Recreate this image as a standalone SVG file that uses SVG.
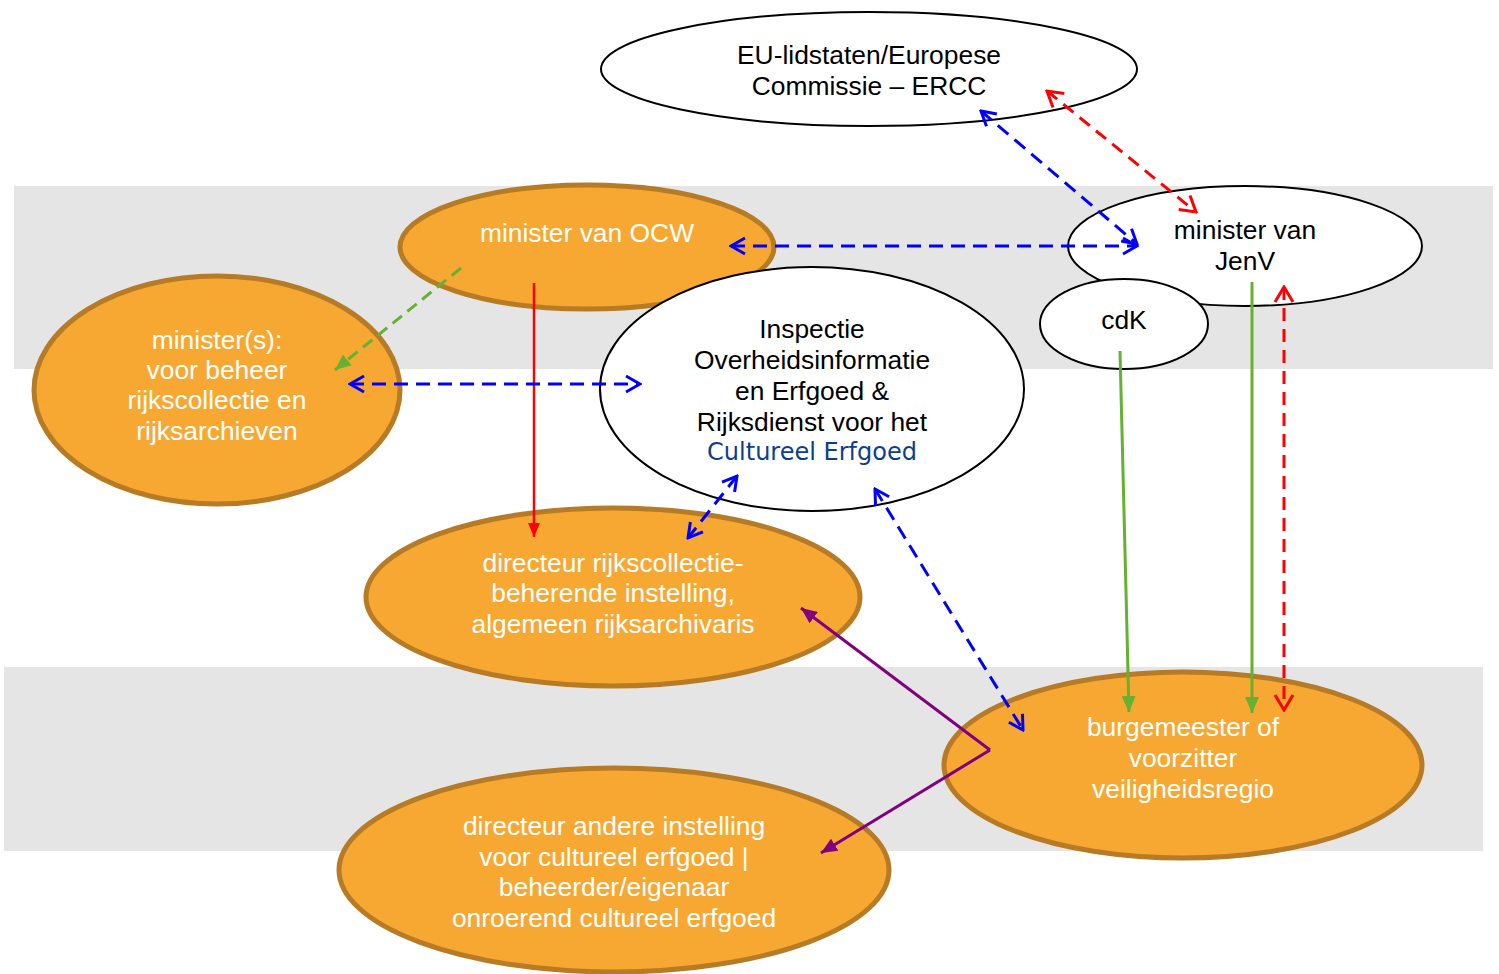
<svg xmlns="http://www.w3.org/2000/svg" width="1499" height="974" viewBox="0 0 1499 974">
<style>
.t{font-family:"Liberation Sans",Arial,sans-serif;font-size:26.4px;text-anchor:middle}
.w{fill:#fff}
.k{fill:#000}
.org{fill:#F6A833;stroke:#B77B26;stroke-width:5}
.wht{fill:#fff;stroke:#000;stroke-width:2}
.bd{fill:none;stroke:#0000FF;stroke-width:3;stroke-dasharray:14 8}
.rd{fill:none;stroke:#FF0000;stroke-width:3;stroke-dasharray:13 8}
.gd{fill:none;stroke:#66B032;stroke-width:3;stroke-dasharray:12 7}
.gs{fill:none;stroke:#66B032;stroke-width:3}
.rs{fill:none;stroke:#FF0000;stroke-width:2.5}
.ps{fill:none;stroke:#800080;stroke-width:3}
</style>
<defs>
<marker id="ob" markerUnits="userSpaceOnUse" viewBox="0 0 20 20" markerWidth="20" markerHeight="20" refX="18" refY="10" orient="auto-start-reverse"><path d="M4,2 L18,10 L4,18" fill="none" stroke="#0000FF" stroke-width="3"/></marker>
<marker id="or" markerUnits="userSpaceOnUse" viewBox="0 0 22 22" markerWidth="22" markerHeight="22" refX="20" refY="11" orient="auto-start-reverse"><path d="M5,2 L20,11 L5,20" fill="none" stroke="#FF0000" stroke-width="3"/></marker>
<marker id="fg" markerUnits="userSpaceOnUse" viewBox="0 0 16 14" markerWidth="16" markerHeight="14" refX="16" refY="7" orient="auto"><path d="M0,0 L16,7 L0,14 Z" fill="#66B032"/></marker>
<marker id="fr" markerUnits="userSpaceOnUse" viewBox="0 0 14 12" markerWidth="14" markerHeight="12" refX="14" refY="6" orient="auto"><path d="M0,0 L14,6 L0,12 Z" fill="#FF0000"/></marker>
<marker id="fp" markerUnits="userSpaceOnUse" viewBox="0 0 16 14" markerWidth="16" markerHeight="14" refX="16" refY="7" orient="auto"><path d="M0,0 L16,7 L0,14 Z" fill="#800080"/></marker>
</defs>
<rect width="1499" height="974" fill="#fff"/>
<g id="bands">
<rect x="14" y="186" width="1479" height="183" fill="#E5E5E5"/>
<rect x="4" y="667" width="1479" height="184" fill="#E5E5E5"/>
</g>
<g id="eu"><ellipse class="wht" cx="869" cy="69" rx="268" ry="57"/>
<text class="t k" x="869" y="64">EU-lidstaten/Europese</text>
<text class="t k" x="869" y="95">Commissie – ERCC</text></g>
<g id="ocw"><ellipse class="org" cx="587" cy="247" rx="187" ry="62"/>
<text class="t w" x="587" y="242">minister van OCW</text></g>
<g id="jenv"><ellipse class="wht" cx="1245" cy="246" rx="177" ry="60"/>
<text class="t k" x="1245" y="239">minister van</text>
<text class="t k" x="1245" y="270">JenV</text></g>
<g id="cdk"><ellipse class="wht" cx="1124" cy="324" rx="84" ry="45"/>
<text class="t k" x="1124" y="329">cdK</text></g>
<g id="ministers"><ellipse class="org" cx="217" cy="390" rx="183" ry="114"/>
<text class="t w" x="217" y="349">minister(s):</text>
<text class="t w" x="217" y="379">voor beheer</text>
<text class="t w" x="217" y="409">rijkscollectie en</text>
<text class="t w" x="217" y="440">rijksarchieven</text></g>
<g id="inspectie"><ellipse class="wht" cx="812" cy="389" rx="212" ry="122"/>
<text class="t k" x="812" y="338">Inspectie</text>
<text class="t k" x="812" y="369">Overheidsinformatie</text>
<text class="t k" x="812" y="400">en Erfgoed &amp;</text>
<text class="t k" x="812" y="431">Rijksdienst voor het</text>
<text x="812" y="460" style="font-family:'DejaVu Sans',Verdana,sans-serif;font-size:24px;text-anchor:middle;fill:#0D3E8C">Cultureel Erfgoed</text></g>
<g id="dirrijks"><ellipse class="org" cx="613" cy="597" rx="247" ry="89"/>
<text class="t w" x="613" y="572">directeur rijkscollectie-</text>
<text class="t w" x="613" y="602">beherende instelling,</text>
<text class="t w" x="613" y="633">algemeen rijksarchivaris</text></g>
<g id="burgemeester"><ellipse class="org" cx="1183" cy="765" rx="239" ry="93"/>
<text class="t w" x="1183" y="736">burgemeester of</text>
<text class="t w" x="1183" y="767">voorzitter</text>
<text class="t w" x="1183" y="798">veiligheidsregio</text></g>
<g id="dirandere"><ellipse class="org" cx="614" cy="870" rx="275" ry="102"/>
<text class="t w" x="614" y="835">directeur andere instelling</text>
<text class="t w" x="614" y="866">voor cultureel erfgoed |</text>
<text class="t w" x="614" y="896">beheerder/eigenaar</text>
<text class="t w" x="614" y="927">onroerend cultureel erfgoed</text></g>
<g id="connectors">
<path class="bd" d="M981,111 L1137,244" marker-start="url(#ob)" marker-end="url(#ob)"/>
<path class="rd" d="M1047,91 L1196,212" marker-start="url(#or)" marker-end="url(#or)"/>
<path class="bd" d="M731,246 L1137,246" marker-start="url(#ob)" marker-end="url(#ob)"/>
<path class="gd" d="M461,268 L335,370" marker-end="url(#fg)"/>
<path class="rs" d="M534,283 L534,537" marker-end="url(#fr)"/>
<path class="bd" d="M350,384 L640,384" marker-start="url(#ob)" marker-end="url(#ob)"/>
<path class="bd" d="M737,476 L688,538" marker-start="url(#ob)" marker-end="url(#ob)"/>
<path class="bd" d="M875,489 L1023,730" marker-start="url(#ob)" marker-end="url(#ob)"/>
<path class="ps" d="M990,750 L801,608" marker-end="url(#fp)"/>
<path class="ps" d="M990,750 L821,853" marker-end="url(#fp)"/>
<path class="gs" d="M1120,351 L1129,712" marker-end="url(#fg)"/>
<path class="gs" d="M1252,282 L1252,713" marker-end="url(#fg)"/>
<path class="rd" d="M1284,287 L1284,710" marker-start="url(#or)" marker-end="url(#or)"/>
</g>
</svg>
